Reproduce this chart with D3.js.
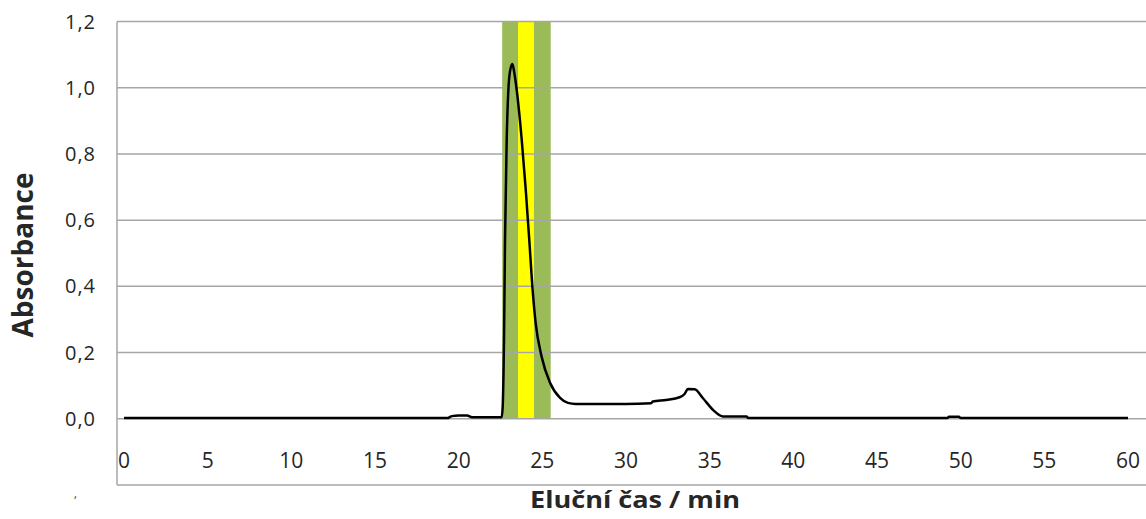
<!DOCTYPE html>
<html lang="cs">
<head>
  <meta charset="UTF-8">
  <title>Chromatogram</title>
  <script src="https://d3js.org/d3.v7.min.js"></script>
  <style>
    body { margin: 0; background: #fff; }
    svg { display: block; }
    .tick-label { font-family: "Open Sans", sans-serif; fill: #262626; }
    .y-label { font-size: 20px; letter-spacing: 1px; }
    .x-label { font-size: 21px; }
    .axis-title { font-family: "Open Sans", sans-serif; font-weight: bold; fill: #262626; }
  </style>
</head>
<body>
<svg width="1146" height="519"></svg>

<script>
  // elution time (min) and absorbance
  const time = [0, 19.3, 19.6, 20.0, 20.5, 20.8, 22.5, 22.57, 22.63, 22.71, 22.77, 22.87, 22.97, 23.07, 23.21,
    23.31, 23.47, 23.77, 24.01, 24.22, 24.42, 24.6, 24.96, 25.46, 26.06, 26.53, 27.0, 30.0, 31.5, 31.6, 32.4,
    33.2, 33.5, 33.7, 34.1, 34.6, 35.2, 35.8, 37.2, 37.3, 49.2, 49.3, 49.9, 50.0, 60];
  const absorbance = [0.002, 0.002, 0.008, 0.01, 0.01, 0.005, 0.005, 0.005, 0.036, 0.24, 0.54, 0.842, 0.993,
    1.05, 1.072, 1.05, 0.993, 0.842, 0.691, 0.54, 0.389, 0.29, 0.187, 0.109, 0.063, 0.048, 0.045, 0.045,
    0.047, 0.052, 0.057, 0.065, 0.075, 0.09, 0.089, 0.062, 0.027, 0.007, 0.007, 0.002, 0.002, 0.006, 0.006,
    0.002, 0.002];

  const xTicks = [0, 5, 10, 15, 20, 25, 30, 35, 40, 45, 50, 55, 60];
  const yTicks = [0, 0.2, 0.4, 0.6, 0.8, 1.0, 1.2];
  const gridValues = [-0.2, 0, 0.2, 0.4, 0.6, 0.8, 1.0, 1.2];

  // collected fractions
  const bandOuter = [22.6, 25.5];
  const bandInner = [23.55, 24.5];

  const svg = d3.select("svg");
  const left = 117, right = 1146;

  const x = d3.scaleLinear().domain([0, 60]).range([124, 1128]);
  const y = d3.scaleLinear().domain([-0.2, 1.2]).range([485, 21.5]);
  const fmt = d => d3.format(".1f")(d).replace(".", ",");

  // bands
  svg.append("rect")
    .attr("x", x(bandOuter[0])).attr("width", x(bandOuter[1]) - x(bandOuter[0]))
    .attr("y", y(1.2)).attr("height", y(0) - y(1.2))
    .attr("fill", "#9BBB59");
  svg.append("rect")
    .attr("x", x(bandInner[0])).attr("width", x(bandInner[1]) - x(bandInner[0]))
    .attr("y", y(1.2)).attr("height", y(0) - y(1.2))
    .attr("fill", "#FFFF00");

  // gridlines
  svg.append("g").selectAll("line")
    .data(gridValues)
    .enter().append("line")
    .attr("x1", left).attr("x2", right)
    .attr("y1", d => y(d)).attr("y2", d => y(d))
    .attr("stroke", "#A6A6A6").attr("stroke-width", 1.5);

  svg.append("line")
    .attr("x1", left).attr("x2", left)
    .attr("y1", y(1.2)).attr("y2", y(-0.2))
    .attr("stroke", "#A6A6A6").attr("stroke-width", 1.5);

  // y labels
  svg.append("g").selectAll("text")
    .data(yTicks)
    .enter().append("text")
    .attr("class", "tick-label y-label")
    .attr("x", 96).attr("y", d => y(d) + 7)
    .attr("text-anchor", "end")
    .text(fmt);

  svg.append("text").attr("class", "tick-label")
    .attr("x", 74).attr("y", 498).style("font-size", "11px").text(",");

  // x labels
  svg.append("g").selectAll("text")
    .data(xTicks)
    .enter().append("text")
    .attr("class", "tick-label x-label")
    .attr("x", d => x(d)).attr("y", 468)
    .attr("text-anchor", "middle")
    .text(d => d);

  // curve
  const line = d3.line()
    .x((d, i) => x(time[i]))
    .y(d => y(d))
    .curve(d3.curveMonotoneX);

  svg.append("path")
    .datum(absorbance)
    .attr("d", line)
    .attr("fill", "none")
    .attr("stroke", "#000")
    .attr("stroke-width", 2.5)
    .attr("stroke-linejoin", "round");

  // axis titles
  svg.append("text").attr("class", "axis-title")
    .attr("transform", "translate(33,255) rotate(-90)")
    .attr("text-anchor", "middle")
    .style("font-size", "28px")
    .text("Absorbance");

  svg.append("text").attr("class", "axis-title")
    .attr("x", 530).attr("y", 508)
    .attr("textLength", 210).attr("lengthAdjust", "spacingAndGlyphs")
    .style("font-size", "23px")
    .text("Eluční čas / min");
</script>
</body>
</html>
